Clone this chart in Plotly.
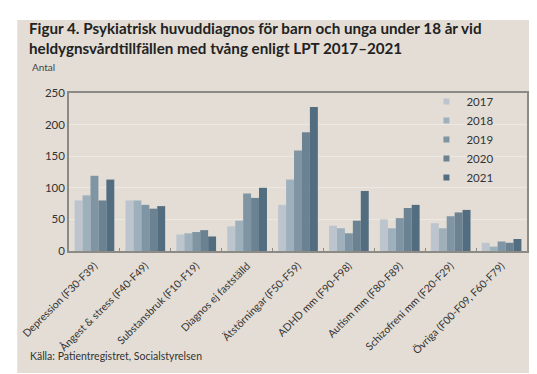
import plotly.graph_objects as go

categories = ["Depression (F30-F39)", "Ångest & stress (F40-F49)", "Substansbruk (F10-F19)",
              "Diagnos ej fastställd", "Ätstörningar (F50-F59)", "ADHD mm (F90-F98)",
              "Autism mm (F80-F89)", "Schizofreni mm (F20-F29)", "Övriga (F00-F09, F60-F79)"]
years = ["2017", "2018", "2019", "2020", "2021"]
v2017 = [80, 80, 26, 39, 73, 40, 50, 44, 13]
v2018 = [88, 80, 28, 48, 113, 36, 36, 36, 7]
v2019 = [119, 73, 30, 91, 159, 28, 52, 55, 15]
v2020 = [80, 67, 33, 84, 188, 48, 68, 61, 13]
v2021 = [113, 71, 23, 100, 228, 95, 73, 65, 19]
series = [v2017, v2018, v2019, v2020, v2021]
colors = ["#bcc5cd", "#9fb0bd", "#7f95a3", "#6a8292", "#526d80"]

W, H = 537, 374
L, R, T, B = 59, 18, 85, 131
pw, ph = W - L - R, H - T - B

def px(x):
    return (x - L) / pw

def py(y):
    return (H - B - y) / ph

fig = go.Figure()
for yr, vals, c in zip(years, series, colors):
    fig.add_trace(go.Bar(x=categories, y=vals, name=yr, marker_color=c,
                         marker_line_width=0, showlegend=False))
# legend entries with small square swatches
for yr, c in zip(years, colors):
    fig.add_trace(go.Scatter(x=[None], y=[None], mode="markers", name=yr,
                             marker=dict(symbol="square", size=6, color=c)))

font = "Lato"
fig.update_layout(
    width=W, height=H,
    margin=dict(l=L, r=R, t=T, b=B),
    paper_bgcolor="white", plot_bgcolor="white",
    barmode="group", bargap=0.22, bargroupgap=0,
    font=dict(family=font, color="#333333", size=11),
    showlegend=True,
    legend=dict(x=px(418), y=py(79), xanchor="left", yanchor="top",
                bgcolor="rgba(0,0,0,0)", font=dict(size=11.5, color="#333333"),
                tracegroupgap=0, itemwidth=30),
    shapes=[dict(type="rect", xref="paper", yref="paper",
                 x0=px(7), x1=px(529), y0=py(365), y1=py(12),
                 fillcolor="#e3ddd5", line_width=0, layer="below")],
    annotations=[
        dict(text="<b>Figur 4. Psykiatrisk huvuddiagnos för barn och unga under 18 år vid<br>heldygnsvårdtillfällen med tvång enligt LPT 2017–2021</b>",
             xref="paper", yref="paper", x=px(17), y=py(9), xanchor="left", yanchor="top",
             align="left", showarrow=False, font=dict(size=15.2, color="#222222", family=font)),
        dict(text="Antal", xref="paper", yref="paper", x=px(20), y=py(51),
             xanchor="left", yanchor="top", showarrow=False,
             font=dict(size=10, color="#444444")),
        dict(text="Källa: Patientregistret, Socialstyrelsen", xref="paper", yref="paper",
             x=px(18), y=py(340), xanchor="left", yanchor="top", showarrow=False,
             font=dict(size=10.5, color="#333333")),
    ],
)
fig.update_yaxes(range=[0, 250], dtick=50, showgrid=True, gridcolor="#ece8e2",
                 showline=True, linecolor="#8c8a85", linewidth=1.5, mirror=True,
                 ticks="", tickfont=dict(size=11.5), zeroline=False)
fig.update_xaxes(showline=True, linecolor="#8c8a85", linewidth=1.5, mirror=True,
                 tickangle=-45, tickfont=dict(size=10.5), tickson="boundaries",
                 ticks="inside", ticklen=3, tickcolor="#8c8a85",
                 ticklabelstandoff=3)

fig.write_html("out.html")
